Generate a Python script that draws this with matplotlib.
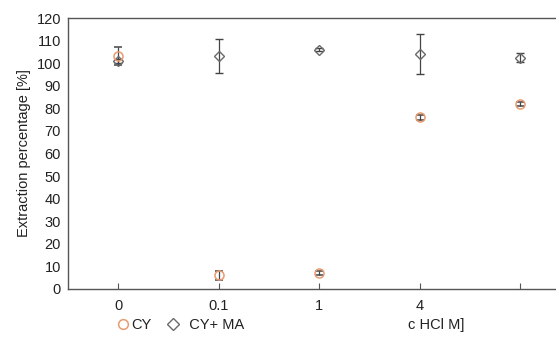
import matplotlib

matplotlib.use("Agg")
import matplotlib.pyplot as plt
import numpy as np

plt.rcParams["font.family"] = ["Liberation Sans", "DejaVu Sans"]

# categories on the x axis (last one has no label in the source)
x_labels = ["0", "0.1", "1", "4", ""]
cy = [103, 6, 7, 76, 82]
cy_err = [4, 2, 1, 1, 1]
cyma = [101, 103, 106, 104, 102.5]
cyma_err = [1, 7.5, 0.5, 8.8, 1.8]

CY_C, MA_C, AX_C = "#e89a70", "#6a6a6a", "#555555"

fig = plt.figure(figsize=(5.56, 3.43), dpi=100)
ax = fig.add_axes([68 / 556, 1 - 289 / 343, 1.0, 271 / 343])

x = np.arange(len(x_labels))
ax.errorbar(x, cyma, yerr=cyma_err, fmt="D", ms=5.5, mfc="none", mec=MA_C, mew=1.0,
            ecolor="#444444", elinewidth=0.9, capsize=3, capthick=0.9, zorder=3)
ax.errorbar(x, cy, yerr=cy_err, fmt="o", ms=6.5, mfc="none", mec=CY_C, mew=1.1,
            ecolor="#444444", elinewidth=0.9, capsize=3, capthick=0.9, zorder=3)

ax.set_xlim(-0.5, 5.03)
ax.set_ylim(0, 120)
ax.set_yticks(np.arange(0, 121, 10))
ax.set_xticks(x)
ax.set_xticklabels(x_labels)
ax.tick_params(axis="x", direction="in", length=4, color=AX_C, labelsize=10.5, pad=7, labelcolor="#222")
ax.tick_params(axis="y", length=0, labelsize=10.5, pad=5, labelcolor="#222")
for s in ["left", "top", "bottom"]:
    ax.spines[s].set_color(AX_C)
    ax.spines[s].set_linewidth(1.0)
ax.spines["right"].set_visible(False)
ax.set_ylabel("Extraction percentage [%]", fontsize=10.5, color="#222", labelpad=4)

h1 = plt.Line2D([], [], ls="none", marker="o", ms=7, mfc="none", mec=CY_C, mew=1.1)
h2 = plt.Line2D([], [], ls="none", marker="D", ms=6, mfc="none", mec=MA_C, mew=1.0)
fig.legend([h1, h2], ["CY", "  CY+ MA"], loc="center", bbox_to_anchor=(180 / 556, 1 - 325 / 343),
           ncol=2, frameon=False, fontsize=10.5, handletextpad=0.05, columnspacing=1.0,
           handlelength=1.0, labelcolor="#222")
fig.text(408 / 556, 1 - 325 / 343, "c HCl M]", fontsize=10.5, color="#222", va="center")

fig.savefig("out.png", dpi=100)
